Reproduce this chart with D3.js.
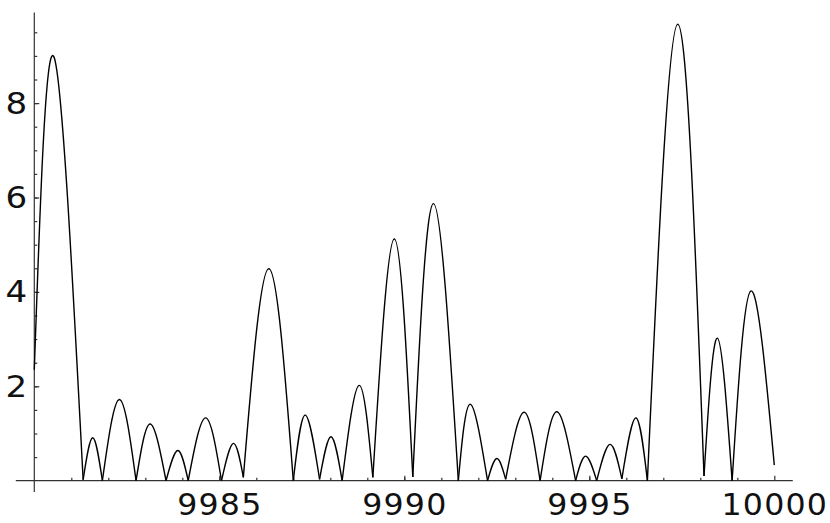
<!doctype html>
<html lang="en">
<head>
    <meta charset="utf-8"/>
    <title>Zeta arches</title>
    <script src="https://d3js.org/d3.v7.min.js"></script>
    <style>
        body { margin: 0; background: #fff; }
        svg text { font-family: "DejaVu Sans", sans-serif; font-size: 31px; fill: #111; }
    </style>
</head>
<body>
<svg id="chart"></svg>
<script>
    // values
    const startPoint = [9980, 2.35],
        endPoint = [10000, 0.33];

    // places where the curve touches (almost) zero
    const zeroT = [9981.32, 9981.84, 9982.75, 9983.56, 9984.16, 9985.06, 9985.65, 9987.00,
        9987.71, 9988.32, 9989.15, 9990.23, 9991.46, 9992.25, 9992.74, 9993.67,
        9994.63, 9995.20, 9995.88, 9996.57, 9998.10, 9998.86];
    const zeroV = [0.02, 0, 0, 0, 0, 0, 0.07, 0, 0.03, 0, 0.07, 0.08, 0, 0, 0.03, 0,
        0, 0, 0.04, 0, 0.1, 0];

    // tops of the arches
    const peakT = [9980.53, 9981.58, 9982.30, 9983.13, 9983.88, 9984.63, 9985.38, 9986.34,
        9987.32, 9988.02, 9988.78, 9989.73, 9990.79, 9991.78, 9992.50, 9993.24,
        9994.12, 9994.90, 9995.56, 9996.26, 9997.39, 9998.46, 9999.37];
    const peakV = [8.98, 0.91, 1.72, 1.20, 0.64, 1.33, 0.79, 4.49,
        1.39, 0.93, 2.02, 5.12, 5.87, 1.62, 0.47, 1.45,
        1.46, 0.52, 0.77, 1.33, 9.67, 3.02, 4.02];

    const xMajor = [9985, 9990, 9995, 10000];
    const yMajor = [2, 4, 6, 8];

    let width = 830,
        height = 523;

    const svg = d3.select("#chart")
        .attr("width", width)
        .attr("height", height);

    const x = d3.scaleLinear().domain([9980, 10000]).range([34.3, 774.3]);
    const y = d3.scaleLinear().domain([0, 8]).range([480.7, 103.1]);

    const axisColor = "#333";

    // axis lines, Mathematica style (crossing at 9980, 0)
    svg.append("line")
        .attr("x1", x(9979.5)).attr("x2", x(10000.5))
        .attr("y1", y(0)).attr("y2", y(0))
        .attr("stroke", axisColor).attr("stroke-width", 1.2);
    svg.append("line")
        .attr("x1", x(9980)).attr("x2", x(9980))
        .attr("y1", y(-0.24)).attr("y2", y(9.92))
        .attr("stroke", axisColor).attr("stroke-width", 1.2);

    // minor ticks
    const xMinor = svg.append("g")
        .attr("transform", `translate(0,${y(0)})`)
        .call(d3.axisBottom(x).tickValues(d3.range(9981, 10000, 1)).tickSizeInner(-3).tickSizeOuter(0).tickFormat(""));
    const yMinor = svg.append("g")
        .attr("transform", `translate(${x(9980)},0)`)
        .call(d3.axisLeft(y).tickValues(d3.range(0.5, 9.6, 0.5)).tickSizeInner(-3).tickSizeOuter(0).tickFormat(""));

    // major ticks with labels
    const xAxis = svg.append("g")
        .attr("transform", `translate(0,${y(0)})`)
        .call(d3.axisBottom(x).tickValues(xMajor).tickSizeInner(-5).tickSizeOuter(0).tickPadding(12).tickFormat(d3.format("d")));
    const yAxis = svg.append("g")
        .attr("transform", `translate(${x(9980)},0)`)
        .call(d3.axisLeft(y).tickValues(yMajor).tickSizeInner(-5).tickSizeOuter(0).tickPadding(7).tickFormat(d3.format("d")));

    [xMinor, yMinor, xAxis, yAxis].forEach(g => {
        g.select(".domain").remove();
        g.selectAll("line").attr("stroke", axisColor).attr("stroke-width", 1.2);
        g.selectAll("text").attr("font-size", null).attr("font-family", null);
    });

    // tick labels in the reference are a little wider spaced
    xAxis.selectAll("text")
        .attr("letter-spacing", 1.2)
        .attr("transform", "scale(1.02,1)");
    yAxis.selectAll("text")
        .attr("x", 0)
        .attr("transform", "translate(-7,0) scale(1.1,1)");

    // one arch between two neighbouring zeros
    const arches = peakT.map((t, i) => {
        const left = i === 0 ? startPoint : [zeroT[i - 1], zeroV[i - 1]];
        const right = i === peakT.length - 1 ? endPoint : [zeroT[i], zeroV[i]];
        return [left, [t, peakV[i]], right];
    });

    const line = d3.line()
        .x(d => x(d[0]))
        .y(d => y(d[1]))
        .curve(d3.curveNatural);

    svg.append("g")
        .selectAll("path")
        .data(arches)
        .enter()
        .append("path")
        .attr("d", line)
        .attr("fill", "none")
        .attr("stroke", "#000")
        .attr("stroke-width", 1.4)
        .attr("stroke-linejoin", "miter");
</script>
</body>
</html>
